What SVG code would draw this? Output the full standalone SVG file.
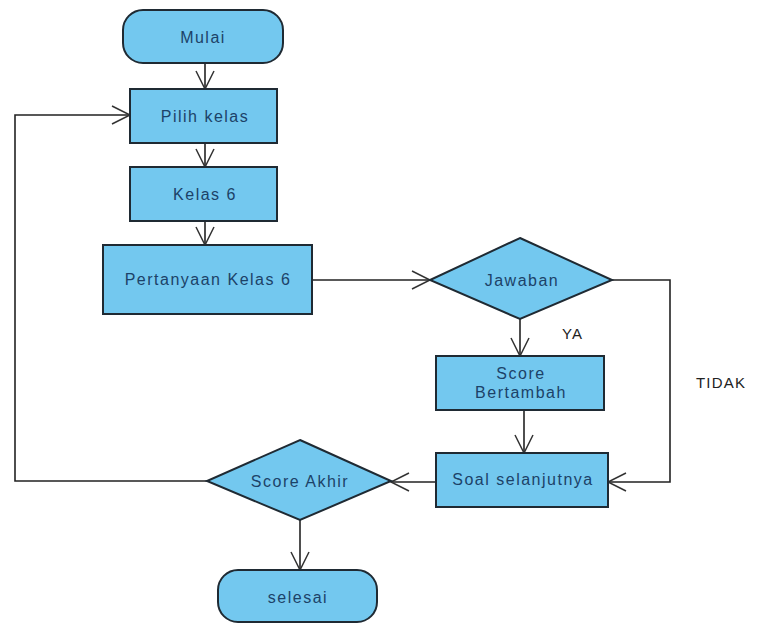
<svg xmlns="http://www.w3.org/2000/svg" width="758" height="624" viewBox="0 0 758 624">
  <style>
    .shape { fill: #73c8ef; stroke: #1f2a33; stroke-width: 2; }
    .label { font-family: "Liberation Sans", Arial, sans-serif; font-size: 16px; letter-spacing: 1.5px; fill: #1c4268; text-anchor: middle; dominant-baseline: central; }
    .note { font-family: "Liberation Sans", Arial, sans-serif; font-size: 15px; letter-spacing: 1.2px; fill: #222; }
    .edge { fill: none; stroke: #222; stroke-width: 1.6; marker-end: url(#open); }
  </style>
  <defs>
    <marker id="open" viewBox="0 0 24 24" refX="22" refY="12" markerWidth="24" markerHeight="24" markerUnits="userSpaceOnUse" orient="auto">
      <path d="M4 3 L22 12 L4 21" fill="none" stroke="#333" stroke-width="1.5"/>
    </marker>
  </defs>
  <rect width="758" height="624" fill="#ffffff"/>

  <g id="connectors">
    <line class="edge" x1="205" y1="64" x2="205" y2="89"/>
    <line class="edge" x1="205" y1="143" x2="205" y2="167"/>
    <line class="edge" x1="205" y1="221" x2="205" y2="245"/>
    <line class="edge" x1="312" y1="280" x2="430" y2="280"/>
    <line class="edge" x1="520" y1="319" x2="520" y2="356"/>
    <polyline class="edge" points="612,280 670,280 670,482 608,482"/>
    <line class="edge" x1="524" y1="410" x2="524" y2="453"/>
    <line class="edge" x1="436" y1="482" x2="391" y2="482"/>
    <polyline class="edge" points="207,481 15,481 15,115 130,115"/>
    <line class="edge" x1="300" y1="520" x2="300" y2="570"/>
  </g>

  <g id="mulai">
    <rect class="shape" x="123" y="10" width="160" height="53" rx="20"/>
    <text class="label" x="203" y="37">Mulai</text>
  </g>
  <g id="pilih-kelas">
    <rect class="shape" x="130" y="89" width="147" height="54"/>
    <text class="label" x="205" y="116">Pilih kelas</text>
  </g>
  <g id="kelas-6">
    <rect class="shape" x="130" y="167" width="147" height="54"/>
    <text class="label" x="205" y="194">Kelas 6</text>
  </g>
  <g id="pertanyaan">
    <rect class="shape" x="103" y="245" width="209" height="69"/>
    <text class="label" x="208" y="279">Pertanyaan Kelas 6</text>
  </g>
  <g id="jawaban">
    <polygon class="shape" points="520,238 612,280 520,319 430,280"/>
    <text class="label" x="522" y="280">Jawaban</text>
  </g>
  <g id="score-bertambah">
    <rect class="shape" x="436" y="356" width="168" height="54"/>
    <text class="label" x="521" y="373">Score</text>
    <text class="label" x="521" y="392">Bertambah</text>
  </g>
  <g id="soal-selanjutnya">
    <rect class="shape" x="436" y="453" width="172" height="54"/>
    <text class="label" x="523" y="479">Soal selanjutnya</text>
  </g>
  <g id="score-akhir">
    <polygon class="shape" points="300,440 391,481 300,520 207,481"/>
    <text class="label" x="300" y="481">Score Akhir</text>
  </g>
  <g id="selesai">
    <rect class="shape" x="218" y="570" width="159" height="52" rx="20"/>
    <text class="label" x="298" y="597">selesai</text>
  </g>

  <g id="edge-labels">
    <text class="note" x="562" y="339">YA</text>
    <text class="note" x="696" y="388">TIDAK</text>
  </g>
</svg>
